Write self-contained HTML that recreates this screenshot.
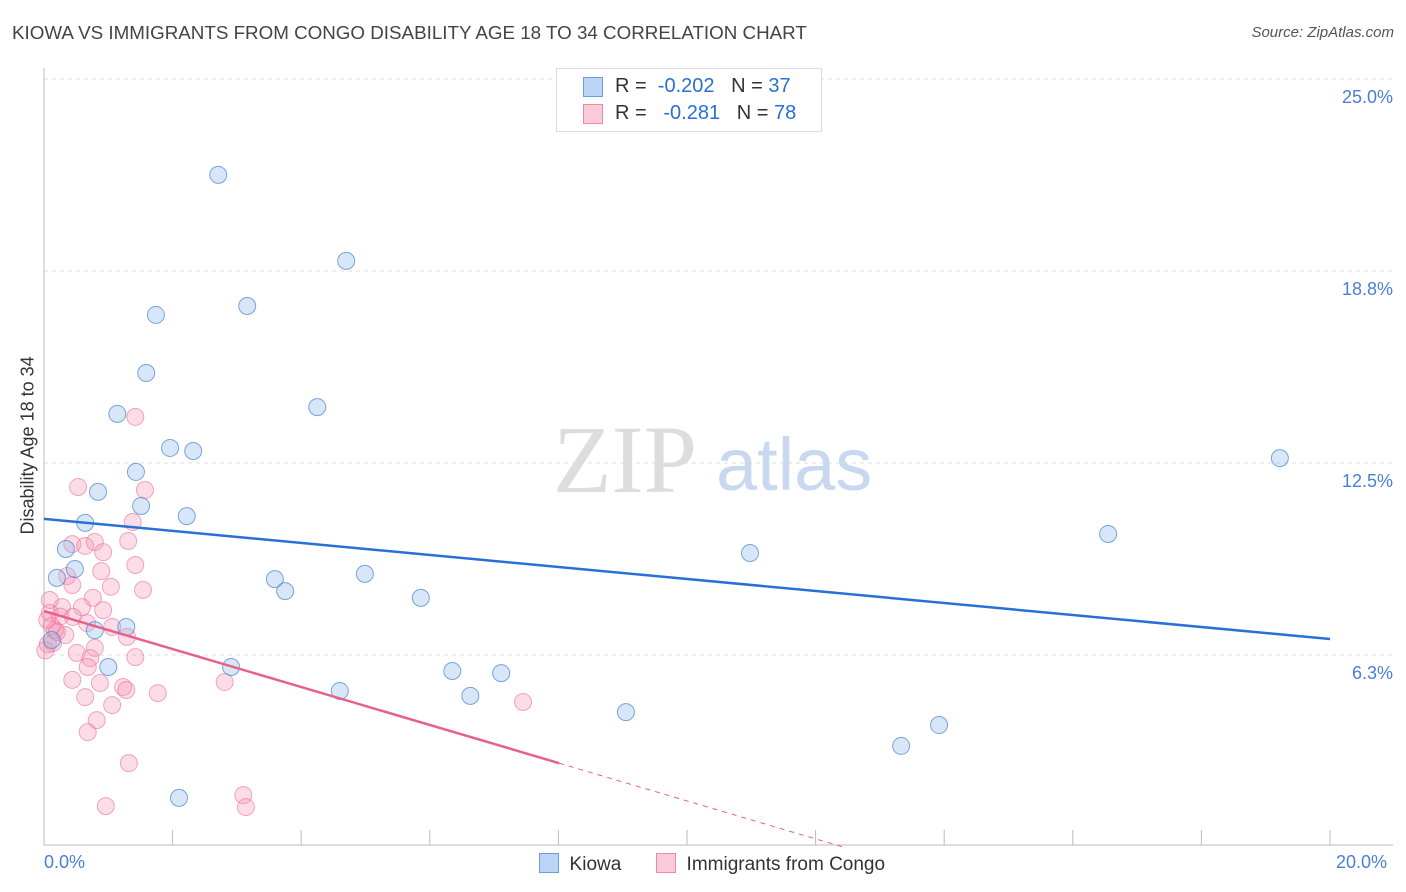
<!DOCTYPE html>
<html><head><meta charset="utf-8"><style>
body{margin:0;background:#fff;font-family:"Liberation Sans",sans-serif;}
#wrap{position:relative;width:1406px;height:892px;overflow:hidden;}
.t{position:absolute;white-space:nowrap;}
</style></head><body>
<div id="wrap">
<div class="t" style="left:12px;top:22px;font-size:18.8px;color:#444;">KIOWA VS IMMIGRANTS FROM CONGO DISABILITY AGE 18 TO 34 CORRELATION CHART</div>
<div class="t" style="right:12px;top:24px;font-size:15px;color:#555;font-style:italic;">Source: ZipAtlas.com</div>
<svg id="svg" width="1406" height="892" style="position:absolute;left:0;top:0"></svg>
</div>
<script>
const kiowaX=[2.71,4.70,1.74,3.16,1.59,4.25,1.14,1.96,2.32,1.43,0.84,1.51,2.22,0.64,0.34,0.48,0.20,3.59,3.75,4.99,5.86,1.28,0.79,1.00,2.91,4.60,6.35,6.63,7.11,9.05,10.98,13.33,13.92,16.55,19.22,2.10,0.12];
const kiowaY=[21.88,19.08,17.32,17.61,15.43,14.32,14.10,12.99,12.89,12.21,11.56,11.10,10.77,10.55,9.70,9.05,8.76,8.72,8.33,8.89,8.11,7.16,7.06,5.86,5.86,5.08,5.73,4.92,5.66,4.39,9.57,3.29,3.97,10.19,12.66,1.60,6.74];
const congoX=[1.42,0.53,1.57,1.38,1.31,0.44,0.64,0.79,0.92,1.42,0.89,1.54,1.04,0.36,0.44,0.76,0.59,0.92,0.28,0.09,0.45,0.67,0.17,1.06,1.29,0.79,0.51,0.72,1.42,0.14,0.05,0.44,0.68,0.87,1.23,1.28,1.77,0.64,1.06,0.82,0.68,1.32,0.96,3.10,3.14,2.81,7.45,0.09,0.06,0.12,0.25,0.33,0.02,0.20];
const congoY=[14.0,11.72,11.62,10.58,9.96,9.86,9.80,9.93,9.60,9.18,8.98,8.37,8.47,8.82,8.53,8.11,7.81,7.71,7.81,7.62,7.49,7.29,7.06,7.16,6.84,6.48,6.32,6.15,6.18,6.64,7.39,5.44,5.86,5.34,5.21,5.11,5.01,4.88,4.62,4.13,3.74,2.73,1.33,1.69,1.30,5.37,4.72,8.04,6.6,7.2,7.5,6.9,6.4,7.0];
const yTicks=[6.25,12.5,18.75,25];
const yTickLabels=["6.3%","12.5%","18.8%","25.0%"];
const kiowaLine=[10.68,6.77];
const congoLine=[7.68,-0.618];
const X=v=>44+v*64.3, Y=v=>847-v*30.72;
const svg=document.getElementById('svg');
const NS='http://www.w3.org/2000/svg';
function mk(tag,a,p){const e=document.createElementNS(NS,tag);for(const k in a)e.setAttribute(k,a[k]);(p||svg).appendChild(e);return e;}
yTicks.forEach((v,i)=>{
 const g=mk('line',{x1:44,x2:1393,y1:Y(v),y2:Y(v),stroke:'#ddd','stroke-dasharray':'4,4'});
 
 
 const t=mk('text',{x:1393,y:Y(v)+24,'text-anchor':'end','font-size':18,fill:'#4a7fd4','font-family':'Liberation Sans'});
 t.textContent=yTickLabels[i];
 
 
});
mk('line',{x1:44,x2:44,y1:68,y2:845,stroke:'#bbb'});
mk('line',{x1:44,x2:1393,y1:845,y2:845,stroke:'#bbb'});
for(let i=0;i<=10;i++){mk('line',{x1:X(i*2),x2:X(i*2),y1:830,y2:845,stroke:'#bbb'});}
const wm=mk('text',{x:553,y:492,'font-size':96,fill:'#ddd','font-family':'Liberation Serif'});wm.textContent='ZIP';
const wm2=mk('text',{x:716,y:490,'font-size':74,fill:'#c8d8f0','font-family':'Liberation Sans'});wm2.textContent='atlas';
congoX.forEach((x,i)=>{const c=mk('circle',{cx:X(x),cy:Y(congoY[i]),r:8.5,fill:'rgba(244,143,177,0.3)',stroke:'rgba(236,112,150,0.6)','stroke-width':1});
 
 });
kiowaX.forEach((x,i)=>{const c=mk('circle',{cx:X(x),cy:Y(kiowaY[i]),r:8.5,fill:'rgba(144,185,235,0.35)',stroke:'rgba(70,130,210,0.7)','stroke-width':1});
 
 });
const kl=mk('line',{x1:X(0),y1:Y(kiowaLine[0]),x2:X(20),y2:Y(kiowaLine[1]),stroke:'#2a6fd6','stroke-width':2.5});


const cEnd=8.01, cZero=-congoLine[0]/congoLine[1];
const cl=mk('line',{x1:X(0),y1:Y(congoLine[0]),x2:X(cEnd),y2:Y(congoLine[0]+congoLine[1]*cEnd),stroke:'#e8608a','stroke-width':2.5});


mk('line',{x1:X(cEnd),y1:Y(congoLine[0]+congoLine[1]*cEnd),x2:X(cZero),y2:Y(0),stroke:'#e8608a','stroke-width':1,'stroke-dasharray':'5,5'});
</script>
<div class="t" style="left:-52px;top:444px;transform:rotate(-90deg);font-size:18px;color:#333;width:160px;text-align:center;">Disability Age 18 to 34</div>
<div class="t" style="left:44px;top:852px;font-size:18px;color:#4a7fd4;">0.0%</div>
<div class="t" style="left:1336px;top:852px;font-size:18px;color:#4a7fd4;">20.0%</div>
<div style="position:absolute;left:556px;top:68px;width:264px;height:62px;border:1px solid #ddd;background:#fff;font-size:20px;color:#333;">
 <div style="position:absolute;left:26px;top:8px;width:18px;height:18px;background:#bcd4f5;border:1px solid #6c9be0;"></div>
 <div class="t" style="left:58px;top:6px;">R = &nbsp;<span style="color:#2a6fd6">-0.202</span> &nbsp;&nbsp;N = <span style="color:#2a6fd6">37</span></div>
 <div style="position:absolute;left:26px;top:35px;width:18px;height:18px;background:#f9cbd9;border:1px solid #ec8aa9;"></div>
 <div class="t" style="left:58px;top:33px;">R = &nbsp;&nbsp;<span style="color:#2a6fd6">-0.281</span> &nbsp;&nbsp;N = <span style="color:#2a6fd6">78</span></div>
</div>
<div style="position:absolute;left:539px;top:853px;font-size:19px;color:#333;">
 <span style="display:inline-block;width:18px;height:18px;background:#bcd4f5;border:1px solid #6c9be0;vertical-align:-3px;"></span>&nbsp; Kiowa</div>
<div style="position:absolute;left:656px;top:853px;font-size:19px;color:#333;">
 <span style="display:inline-block;width:18px;height:18px;background:#f9cbd9;border:1px solid #ec8aa9;vertical-align:-3px;"></span>&nbsp; Immigrants from Congo</div>
</body></html>
